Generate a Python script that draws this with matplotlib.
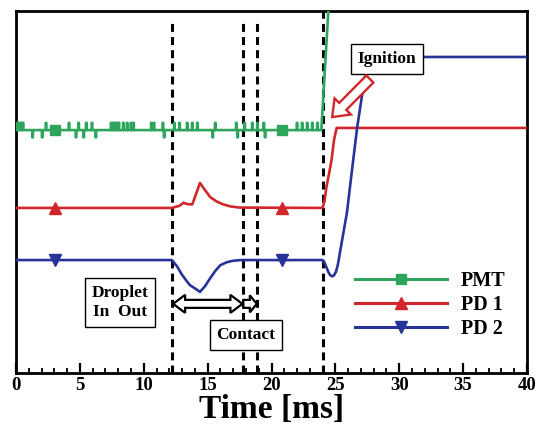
import numpy as np
import matplotlib
matplotlib.use("Agg")
import matplotlib.pyplot as plt
from matplotlib.patches import Polygon
from matplotlib.lines import Line2D
from matplotlib.transforms import IdentityTransform

plt.rcParams["font.family"] = ["Liberation Serif", "DejaVu Serif"]
plt.rcParams["font.weight"] = "bold"

# ---- data (y in arbitrary units 0..1) ----
pmt_base = 0.671
pmt_rise_t = [23.9, 24.45, 24.7]
pmt_rise_y = [0.671, 1.0, 1.12]
pmt_spike_t = [0.1, 0.25, 0.4, 0.55, 1.3, 2.05, 2.35, 4.15, 4.7, 4.9, 5.3, 5.5,
               5.95, 6.25, 7.45, 7.6, 7.75, 7.9, 8.05, 8.4, 8.7, 9.0, 9.2, 10.6,
               10.8, 11.5, 11.6, 12.4, 12.8, 13.4, 13.8, 14.2, 15.4, 15.6, 17.25,
               17.35, 17.9, 18.5, 18.9, 19.4, 19.5, 22.0, 22.4, 22.8, 23.2, 23.6]
pmt_spike_a = [1, 1, 1, 1, -1, -1, 1, 1, -1, 1, -1, 1,
               1, -1, 1, 1, 1, 1, 1, 1, 1, 1, 1, 1,
               1, 1, -1, 1, 1, 1, 1, 1, -1, 1, 1,
               -1, 1, 1, 1, 1, -1, 1, 1, 1, 1, 1]

pd1_t = [0, 12.2, 12.8, 13.1, 13.5, 13.8, 14.1, 14.4, 14.7, 15.2, 15.7, 16.2,
         16.8, 17.5, 24.0, 24.15, 24.3, 24.5, 24.7, 24.9, 25.1, 40]
pd1_y = [0.456, 0.456, 0.462, 0.470, 0.466, 0.466, 0.495, 0.525, 0.510, 0.486,
         0.474, 0.466, 0.460, 0.457, 0.456, 0.475, 0.514, 0.550, 0.588, 0.645,
         0.677, 0.677]

pd2_t = [0, 12.2, 12.6, 13.0, 13.6, 14.0, 14.4, 14.8, 15.2, 15.6, 16.0, 16.5,
         17.0, 17.6, 24.0, 24.15, 24.3, 24.45, 24.6, 24.75, 24.9, 25.05, 25.2,
         25.35, 25.9, 26.3, 26.7, 27.1, 27.45, 27.75, 40]
pd2_y = [0.312, 0.312, 0.295, 0.271, 0.243, 0.234, 0.224, 0.240, 0.262, 0.282,
         0.298, 0.306, 0.310, 0.312, 0.312, 0.305, 0.292, 0.279, 0.270, 0.267,
         0.270, 0.280, 0.300, 0.331, 0.442, 0.560, 0.677, 0.770, 0.835, 0.873,
         0.873]

marker_t = [3.05, 20.8]
event_t = [12.2, 17.75, 18.85, 24.0]
labels = ["PMT", "PD 1", "PD 2"]

green = "#2ea55c"
red = "#d2272a"
blue = "#28339a"

# build PMT trace: flat baseline with thin spikes
w = 0.025
pt, py = [0.0], [pmt_base]
for t, a in zip(pmt_spike_t, pmt_spike_a):
    pt += [t - w, t - w, t + w, t + w]
    py += [pmt_base, pmt_base + 0.02 * a, pmt_base + 0.02 * a, pmt_base]
pt += pmt_rise_t
py += pmt_rise_y

fig = plt.figure(figsize=(5.46, 4.30), dpi=100)
ax = fig.add_axes([16 / 546, 57 / 430, 511 / 546, 362 / 430])
ax.set_xlim(0, 40)
ax.set_ylim(0, 1)

lw = 1.9
ax.plot(pt, py, color=green, lw=lw, zorder=3)
ax.plot(pd1_t, pd1_y, color=red, lw=lw, zorder=3)
ax.plot(pd2_t, pd2_y, color=blue, lw=lw, zorder=3)
ax.plot(marker_t, np.interp(marker_t, pt, py), "s", color=green, ms=7, zorder=4)
ax.plot(marker_t, np.interp(marker_t, pd1_t, pd1_y), "^", color=red, ms=8, zorder=4)
ax.plot(marker_t, np.interp(marker_t, pd2_t, pd2_y), "v", color=blue, ms=8, zorder=4)

for i, t in enumerate(event_t):
    ax.axvline(t, ymin=0, ymax=1 if i == 3 else 0.975, color="black", lw=2.2,
               ls=(0, (2.6, 1.7)), zorder=2)

# legend
handles = [Line2D([], [], color=green, lw=2.2, marker="s", ms=7.5),
           Line2D([], [], color=red, lw=2.2, marker="^", ms=8.5),
           Line2D([], [], color=blue, lw=2.2, marker="v", ms=8.5)]
ax.legend(handles, labels, loc="upper left", bbox_to_anchor=(26.5 / 40, 0.282),
          frameon=False, handlelength=4.58, handletextpad=0.7,
          labelspacing=0.19, borderpad=0, borderaxespad=0, numpoints=1,
          prop={"weight": "bold", "size": 14.5})

# text boxes
box = dict(boxstyle="square,pad=0.4", fc="white", ec="black", lw=1)
ax.text(29.05, 0.867, "Ignition", ha="center", va="center", fontsize=12.5,
        bbox=box, zorder=5)
ax.text(8.15, 0.195, "Droplet\nIn  Out", ha="center", va="center", fontsize=12.5,
        linespacing=1.25, bbox=box, zorder=5)
ax.text(18.0, 0.104, "Contact", ha="center", va="center", fontsize=12.5,
        bbox=box, zorder=5)


def block_arrow(ax, p0, p1, shaft, head_w, head_l, both=False, **kw):
    a = ax.transData.transform(p0)
    b = ax.transData.transform(p1)
    d = b - a
    L = np.hypot(*d)
    u = d / L
    n = np.array([-u[1], u[0]])
    s, h = shaft / 2, head_w / 2
    hb = b - u * head_l
    if both:
        ha = a + u * head_l
        pts = [a, ha + n * h, ha + n * s, hb + n * s, hb + n * h, b,
               hb - n * h, hb - n * s, ha - n * s, ha - n * h]
    else:
        pts = [a + n * s, hb + n * s, hb + n * h, b, hb - n * h, hb - n * s, a - n * s]
    ax.add_patch(Polygon(pts, closed=True, transform=IdentityTransform(),
                         zorder=5, joinstyle="miter", **kw))


block_arrow(ax, (12.3, 0.191), (17.72, 0.191), 8, 18, 12, both=True,
            fc="white", ec="black", lw=1.6)
block_arrow(ax, (17.8, 0.191), (18.85, 0.191), 8, 17, 7,
            fc="white", ec="black", lw=1.6)
block_arrow(ax, (27.7, 0.812), (24.75, 0.707), 10, 23, 15,
            fc="white", ec=red, lw=1.7)

# axes styling
for sp in ax.spines.values():
    sp.set_linewidth(2)
ax.set_yticks([])
ax.set_xticks(np.arange(0, 41, 5))
ax.set_xticks(np.arange(0, 41, 1), minor=True)
ax.tick_params(axis="x", which="major", direction="in", length=7, width=1.6,
               labelsize=13.5, pad=3)
ax.tick_params(axis="x", which="minor", direction="in", length=3.8, width=1.3)
ax.set_xlabel("Time [ms]", fontsize=24, fontweight="bold", labelpad=0)

fig.savefig("out.png", dpi=100)
